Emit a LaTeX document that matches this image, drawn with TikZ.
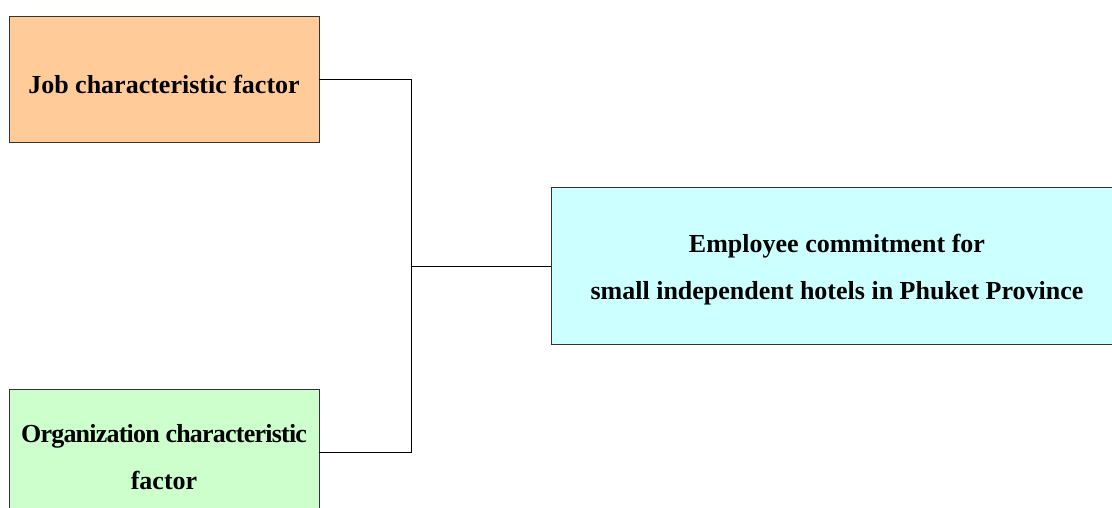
\documentclass[tikz,border=0pt]{standalone}
\usepackage{fontspec}
\setmainfont{Liberation Serif}
\definecolor{jobfill}{HTML}{FFCC99}
\definecolor{orgfill}{HTML}{CCFFCC}
\definecolor{empfill}{HTML}{CCFFFF}
\begin{document}
\begin{tikzpicture}[x=1pt,y=1pt,
  box/.style={draw=black!80, line width=0.8pt, inner sep=0pt},
  txt/.style={inner sep=0pt, align=center,
    font=\bfseries\fontsize{26}{47}\selectfont},
  link/.style={draw=black, line width=0.8pt}]
\useasboundingbox (0,0) rectangle (1112,508);
\clip (0,0) rectangle (1112,508);
\node[box, fill=jobfill, minimum width=310, minimum height=126] (job) at (164,429) {};
\node[box, fill=orgfill, minimum width=310, minimum height=134] (org) at (164,52) {};
\node[box, fill=empfill, minimum width=572, minimum height=157] (emp) at (837,242.5) {};
\node[txt] (jobt) at (164,424) {Job characteristic factor};
\node[txt] (orgt) at (164,51) {{\addfontfeature{LetterSpace=-3}Organization characteristic}\\factor};
\node[txt] (empt) at (837,238) {Employee commitment for\\small independent hotels in Phuket Province};
\coordinate (top) at (411,429);
\coordinate (bot) at (411,56);
\coordinate (mid) at (411,242);
\draw[link] (job.east) -- (top) -- (bot) -- (org.east |- bot);
\draw[link] (mid) -- (emp.west |- mid);
\end{tikzpicture}
\end{document}
